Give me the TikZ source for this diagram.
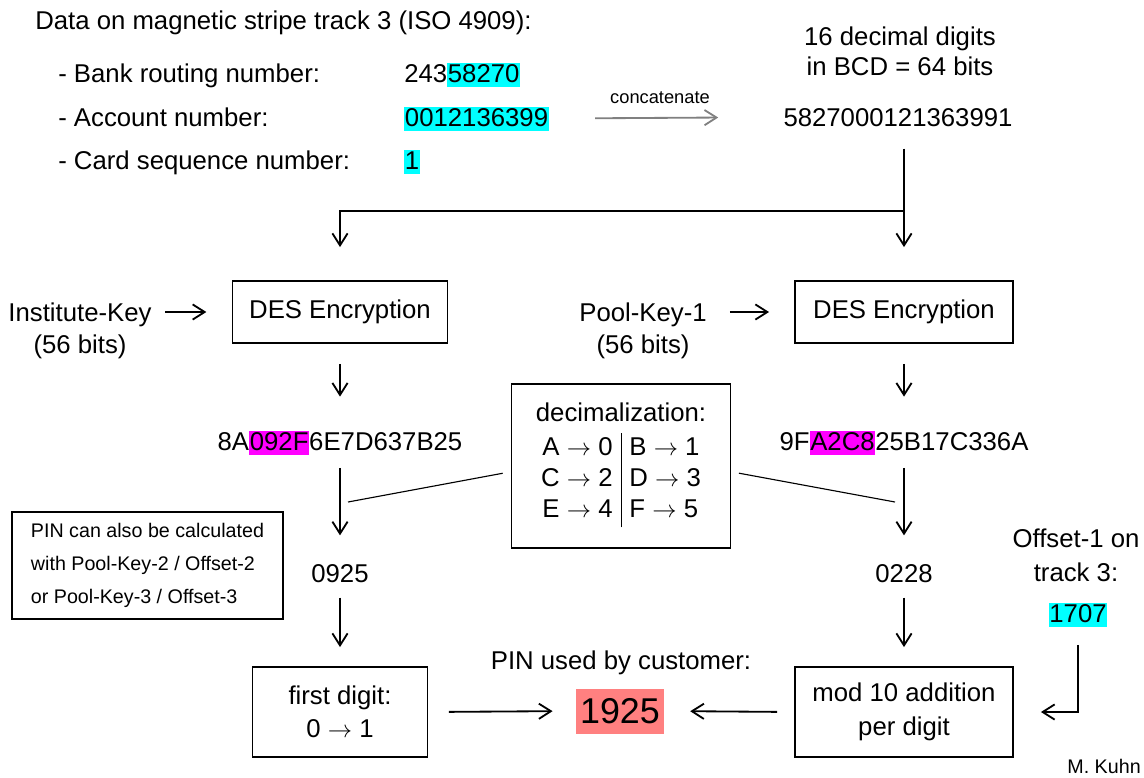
\documentclass[tikz,border=0pt]{standalone}
\usepackage{fontspec}
\setmainfont{Liberation Sans}
\usetikzlibrary{arrows.meta}
\definecolor{hlcyan}{RGB}{0,255,255}
\definecolor{hlmag}{RGB}{255,0,255}
\definecolor{hlpin}{RGB}{255,128,128}
\newcommand{\hlbox}[2]{{\setlength{\fboxsep}{0.5pt}\colorbox{#1}{\rule[-0.15em]{0pt}{0.88em}#2}}}
\newcommand{\fs}[2]{\fontsize{#1}{#2}\selectfont}
\tikzset{
  box/.style={draw, line width=1.3pt, align=center},
  flow/.style={line width=1.3pt, -{Straight Barb[length=3mm,width=3.8mm]}},
  thinline/.style={line width=0.8pt}
}
\begin{document}
\begin{tikzpicture}[x=0.025cm, y=-0.025cm]
                \tikzstyle{every node}+=[inner sep=0pt, font=\fs{18.3}{22.3}]
                \useasboundingbox (0,0) rectangle (1144,777);
                % track 3 data
                \node[anchor=base west] (title) at (35,29) {Data on magnetic stripe track 3 (ISO 4909):};
                \node[anchor=base west] (bank) at (58,82) {- Bank routing number:};
                \node[anchor=base west] (acct) at (58,126) {- Account number:};
                \node[anchor=base west] (seq) at (58,169) {- Card sequence number:};
                \node[anchor=base west] (bankval) at (404,82) {243\hlbox{hlcyan}{58270}};
                \node[anchor=base west] (acctval) at (404,126) {\hlbox{hlcyan}{0012136399}};
                \node[anchor=base west] (seqval) at (404,169) {\hlbox{hlcyan}{1}};
                \node (concat) at (660,98) {\fs{13}{16}concatenate};
                \node[align=center, font=\fs{18.3}{21.3}] (bcd) at (900,51) {16 decimal digits\\in BCD = 64 bits};
                \node[anchor=base] (num) at (898,126) {5827000121363991};
                \draw [flow, gray, shorten <=1.15cm, shorten >=1.625cm] (acctval.east) -- (num.west);
                % DES stage
                \node[box, minimum width=5.375cm, minimum height=1.55cm] (desL) at (340,312) {DES Encryption};
                \node[box, minimum width=5.45cm, minimum height=1.55cm] (desR) at (904,312) {DES Encryption};
                \node[anchor=base] (ikey) at (80,321) {Institute-Key};
                \node[anchor=base] (ibits) at (80,353) {(56 bits)};
                \node[anchor=base] (pkey) at (643,321) {Pool-Key-1};
                \node[anchor=base] (pbits) at (643,353) {(56 bits)};
                \coordinate (split) at (904,211);
                \draw [flow, shorten <=0.55cm, shorten >=0.825cm] (num.south -| desR.north) -- (desR.north);
                \draw [flow, shorten >=0.825cm] (split) -| (desL.north);
                \draw [flow, shorten <=0.34cm, shorten >=0.63cm] (ikey.east |- desL.west) -- (desL.west);
                \draw [flow, shorten <=0.575cm, shorten >=0.625cm] (pkey.east |- desR.west) -- (desR.west);
                % ciphertexts
                \node[anchor=base] (hexL) at (340,450) {8A\hlbox{hlmag}{092F}6E7D637B25};
                \node[anchor=base] (hexR) at (904,450) {9F\hlbox{hlmag}{A2C8}25B17C336A};
                \draw [flow, shorten <=0.5cm, shorten >=0.84cm] (desL.south) -- (desL.south |- hexL.north);
                \draw [flow, shorten <=0.5cm, shorten >=0.84cm] (desR.south) -- (desR.south |- hexR.north);
                % decimalization
                \node[box, minimum width=5.475cm, minimum height=4.1cm] (decbox) at (621,466) {};
                \node[anchor=base] (dectitle) at (621,421) {decimalization:};
                \node[anchor=north] (dectable) at (621,433) {\begin{tabular}{@{}r|l@{}}
                  A $\rightarrow$ 0 & B $\rightarrow$ 1\\
                  C $\rightarrow$ 2 & D $\rightarrow$ 3\\
                  E $\rightarrow$ 4 & F $\rightarrow$ 5
                  \end{tabular}};
                \node[anchor=base] (decL) at (340,582) {0925};
                \node[anchor=base] (decR) at (904,582) {0228};
                \draw [flow, shorten <=0.325cm, shorten >=0.71cm] (hexL.south) -- (decL.north);
                \draw [flow, shorten <=0.325cm, shorten >=0.71cm] (hexR.south) -- (decR.north);
                \coordinate (decjl) at (348,502);
                \coordinate (decjr) at (895,502);
                \draw [thinline, shorten <=0.2cm] (decbox.183) -- (decjl);
                \draw [thinline, shorten <=0.19cm] (decbox.357) -- (decjr);
                % note
                \node[box, minimum width=6.775cm, minimum height=2.675cm, align=left, font=\fs{14}{23.4}] (note) at (147.5,565.5) {PIN can also be calculated\\with Pool-Key-2 / Offset-2\\or Pool-Key-3 / Offset-3};
                % offset
                \node[align=center, font=\fs{18.3}{24}] (offset) at (1076,555) {Offset-1 on\\track 3:};
                \node[anchor=base] (offval) at (1078,622) {\hlbox{hlcyan}{1707}};
                % final steps
                \node[box, minimum width=4.375cm, minimum height=2.25cm, font=\fs{18.3}{23.4}] (first) at (340,712) {first digit:\\0 $\rightarrow$ 1};
                \node[box, minimum width=5.45cm, minimum height=2.25cm, font=\fs{18.3}{24}] (mod) at (904,712) {mod 10 addition\\per digit};
                \node[anchor=base] (pinlabel) at (621,669) {PIN used by customer:};
                \node[fill=hlpin, minimum width=2.175cm, minimum height=1.125cm, font=\fs{25.5}{30}] (pin) at (620,711) {1925};
                \draw [flow, shorten <=0.375cm, shorten >=0.475cm] (decL.south) -- (first.north);
                \draw [flow, shorten <=0.375cm, shorten >=0.475cm] (decR.south) -- (mod.north);
                \draw [flow, shorten <=0.51cm, shorten >=0.59cm] (first.east) -- (pin.west);
                \draw [flow, shorten <=0.425cm, shorten >=0.66cm] (mod.west) -- (pin.east);
                \draw [flow, shorten <=0.45cm, shorten >=0.675cm] (offval.south) |- (mod.east);
                \node[anchor=base east, font=\fs{14}{16}] (author) at (1141,773) {M. Kuhn};
\end{tikzpicture}
\end{document}
